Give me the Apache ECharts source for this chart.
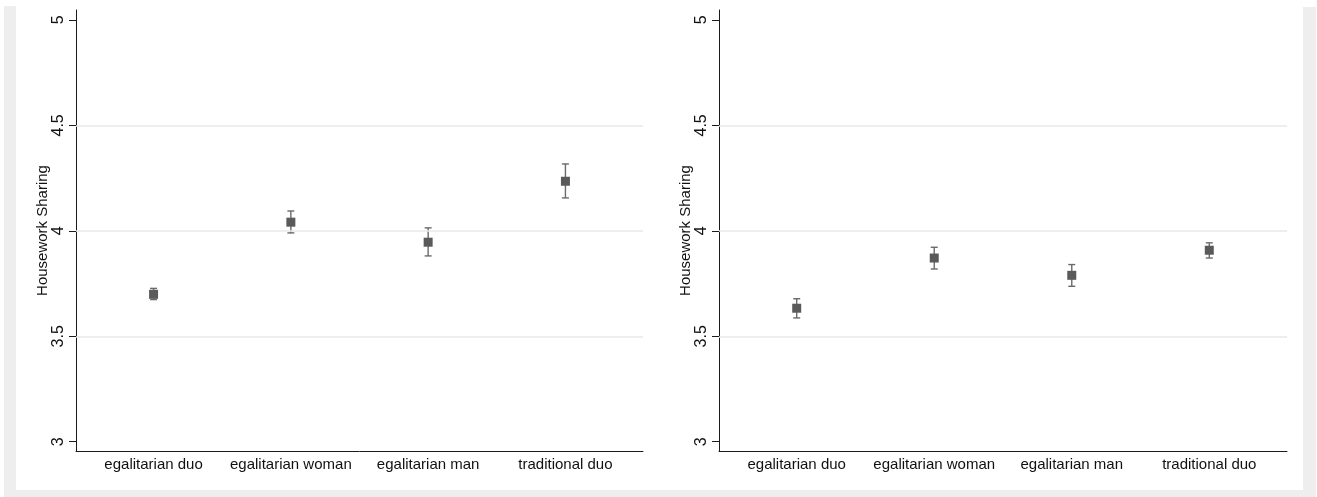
<!DOCTYPE html>
<html>
<head>
<meta charset="utf-8">
<script src="https://cdn.jsdelivr.net/npm/echarts@6/dist/echarts.min.js"></script>
<style>
  html, body { margin: 0; padding: 0; background: #ffffff; }
  #chart { width: 1317px; height: 497px; }
</style>
</head>
<body>
<div id="chart"></div>
<script>
// Group labels along the horizontal axis
const categories = ['egalitarian duo', 'egalitarian woman', 'egalitarian man', 'traditional duo'];

// Left panel: means with lower / upper confidence bounds
const leftMean = [3.699, 4.041, 3.946, 4.235];
const leftLow  = [3.674, 3.990, 3.881, 4.156];
const leftHigh = [3.727, 4.094, 4.014, 4.317];

// Right panel: means with lower / upper confidence bounds
const rightMean = [3.633, 3.871, 3.789, 3.908];
const rightLow  = [3.587, 3.819, 3.737, 3.871];
const rightHigh = [3.678, 3.922, 3.840, 3.943];

// Vertical axis tick labels and the light reference lines
const yTicks = [3, 3.5, 4, 4.5, 5];
const gridValues = [3.5, 4, 4.5];

const FONT = '"Liberation Sans", Arial, sans-serif';
const AXIS_COLOR = '#1a1a1a';
const BAR_COLOR = '#6a6a6a';
const MARK_COLOR = '#5a5a5a';
const FRAME = '#eeeeee';

function xAxisFor(gridIndex) {
  return {
    type: 'value', gridIndex: gridIndex, min: 0.435, max: 4.565,
    splitLine: { show: false },
    axisLine: { show: true, onZero: false, lineStyle: { color: AXIS_COLOR, width: 1 } },
    axisTick: { show: false },
    axisLabel: {
      customValues: [1, 2, 3, 4],
      formatter: function (v) { return categories[Math.round(v) - 1] || ''; },
      color: '#111', fontFamily: FONT, fontSize: 15, margin: 6
    }
  };
}

function yAxisFor(gridIndex) {
  return {
    type: 'value', gridIndex: gridIndex, min: 2.956, max: 5.047,
    name: 'Housework Sharing', nameLocation: 'middle', nameGap: 26,
    nameTextStyle: { color: '#111', fontFamily: FONT, fontSize: 15 },
    splitLine: { show: false },
    axisLine: { show: true, onZero: false, lineStyle: { color: AXIS_COLOR, width: 1 } },
    axisTick: { show: true, length: 7, customValues: yTicks, lineStyle: { color: AXIS_COLOR } },
    axisLabel: {
      customValues: yTicks, rotate: 90, margin: 9,
      formatter: function (v) { return String(v); },
      color: '#111', fontFamily: FONT, fontSize: 16
    }
  };
}

function errorSeries(idx, mean, low, high) {
  return {
    type: 'custom', xAxisIndex: idx, yAxisIndex: idx, silent: true, z: 2,
    data: mean.map(function (m, i) { return [i + 1, low[i], high[i]]; }),
    renderItem: function (params, api) {
      const lo = api.coord([api.value(0), api.value(1)]);
      const hi = api.coord([api.value(0), api.value(2)]);
      const cap = 3.5;
      const style = { stroke: BAR_COLOR, lineWidth: 1.4, fill: null };
      return {
        type: 'group',
        children: [
          { type: 'line', shape: { x1: lo[0], y1: lo[1], x2: hi[0], y2: hi[1] }, style: style },
          { type: 'line', shape: { x1: lo[0] - cap, y1: lo[1], x2: lo[0] + cap, y2: lo[1] }, style: style },
          { type: 'line', shape: { x1: hi[0] - cap, y1: hi[1], x2: hi[0] + cap, y2: hi[1] }, style: style }
        ]
      };
    },
    markLine: {
      silent: true, symbol: 'none', label: { show: false },
      lineStyle: { color: '#e8e8e8', width: 1.5, type: 'solid' },
      data: gridValues.map(function (v) { return { yAxis: v }; })
    }
  };
}

function pointSeries(idx, mean) {
  return {
    type: 'scatter', xAxisIndex: idx, yAxisIndex: idx, silent: true, z: 3,
    symbol: 'rect', symbolSize: 9,
    itemStyle: { color: MARK_COLOR, opacity: 1 },
    data: mean.map(function (m, i) { return [i + 1, m]; })
  };
}

const chart = echarts.init(document.getElementById('chart'), null, { renderer: 'canvas' });
chart.setOption({
  backgroundColor: '#ffffff',
  animation: false,
  textStyle: { fontFamily: FONT },
  graphic: [
    { type: 'rect', shape: { x: 4, y: 6, width: 12, height: 491 }, style: { fill: FRAME }, silent: true },
    { type: 'rect', shape: { x: 1303, y: 7, width: 13, height: 490 }, style: { fill: FRAME }, silent: true },
    { type: 'rect', shape: { x: 4, y: 490, width: 1312, height: 7 }, style: { fill: FRAME }, silent: true }
  ],
  grid: [
    { left: 76, width: 567, top: 10, height: 441 },
    { left: 719, width: 568, top: 10, height: 441 }
  ],
  xAxis: [xAxisFor(0), xAxisFor(1)],
  yAxis: [yAxisFor(0), yAxisFor(1)],
  series: [
    errorSeries(0, leftMean, leftLow, leftHigh),
    pointSeries(0, leftMean),
    errorSeries(1, rightMean, rightLow, rightHigh),
    pointSeries(1, rightMean)
  ]
});
</script>
</body>
</html>
